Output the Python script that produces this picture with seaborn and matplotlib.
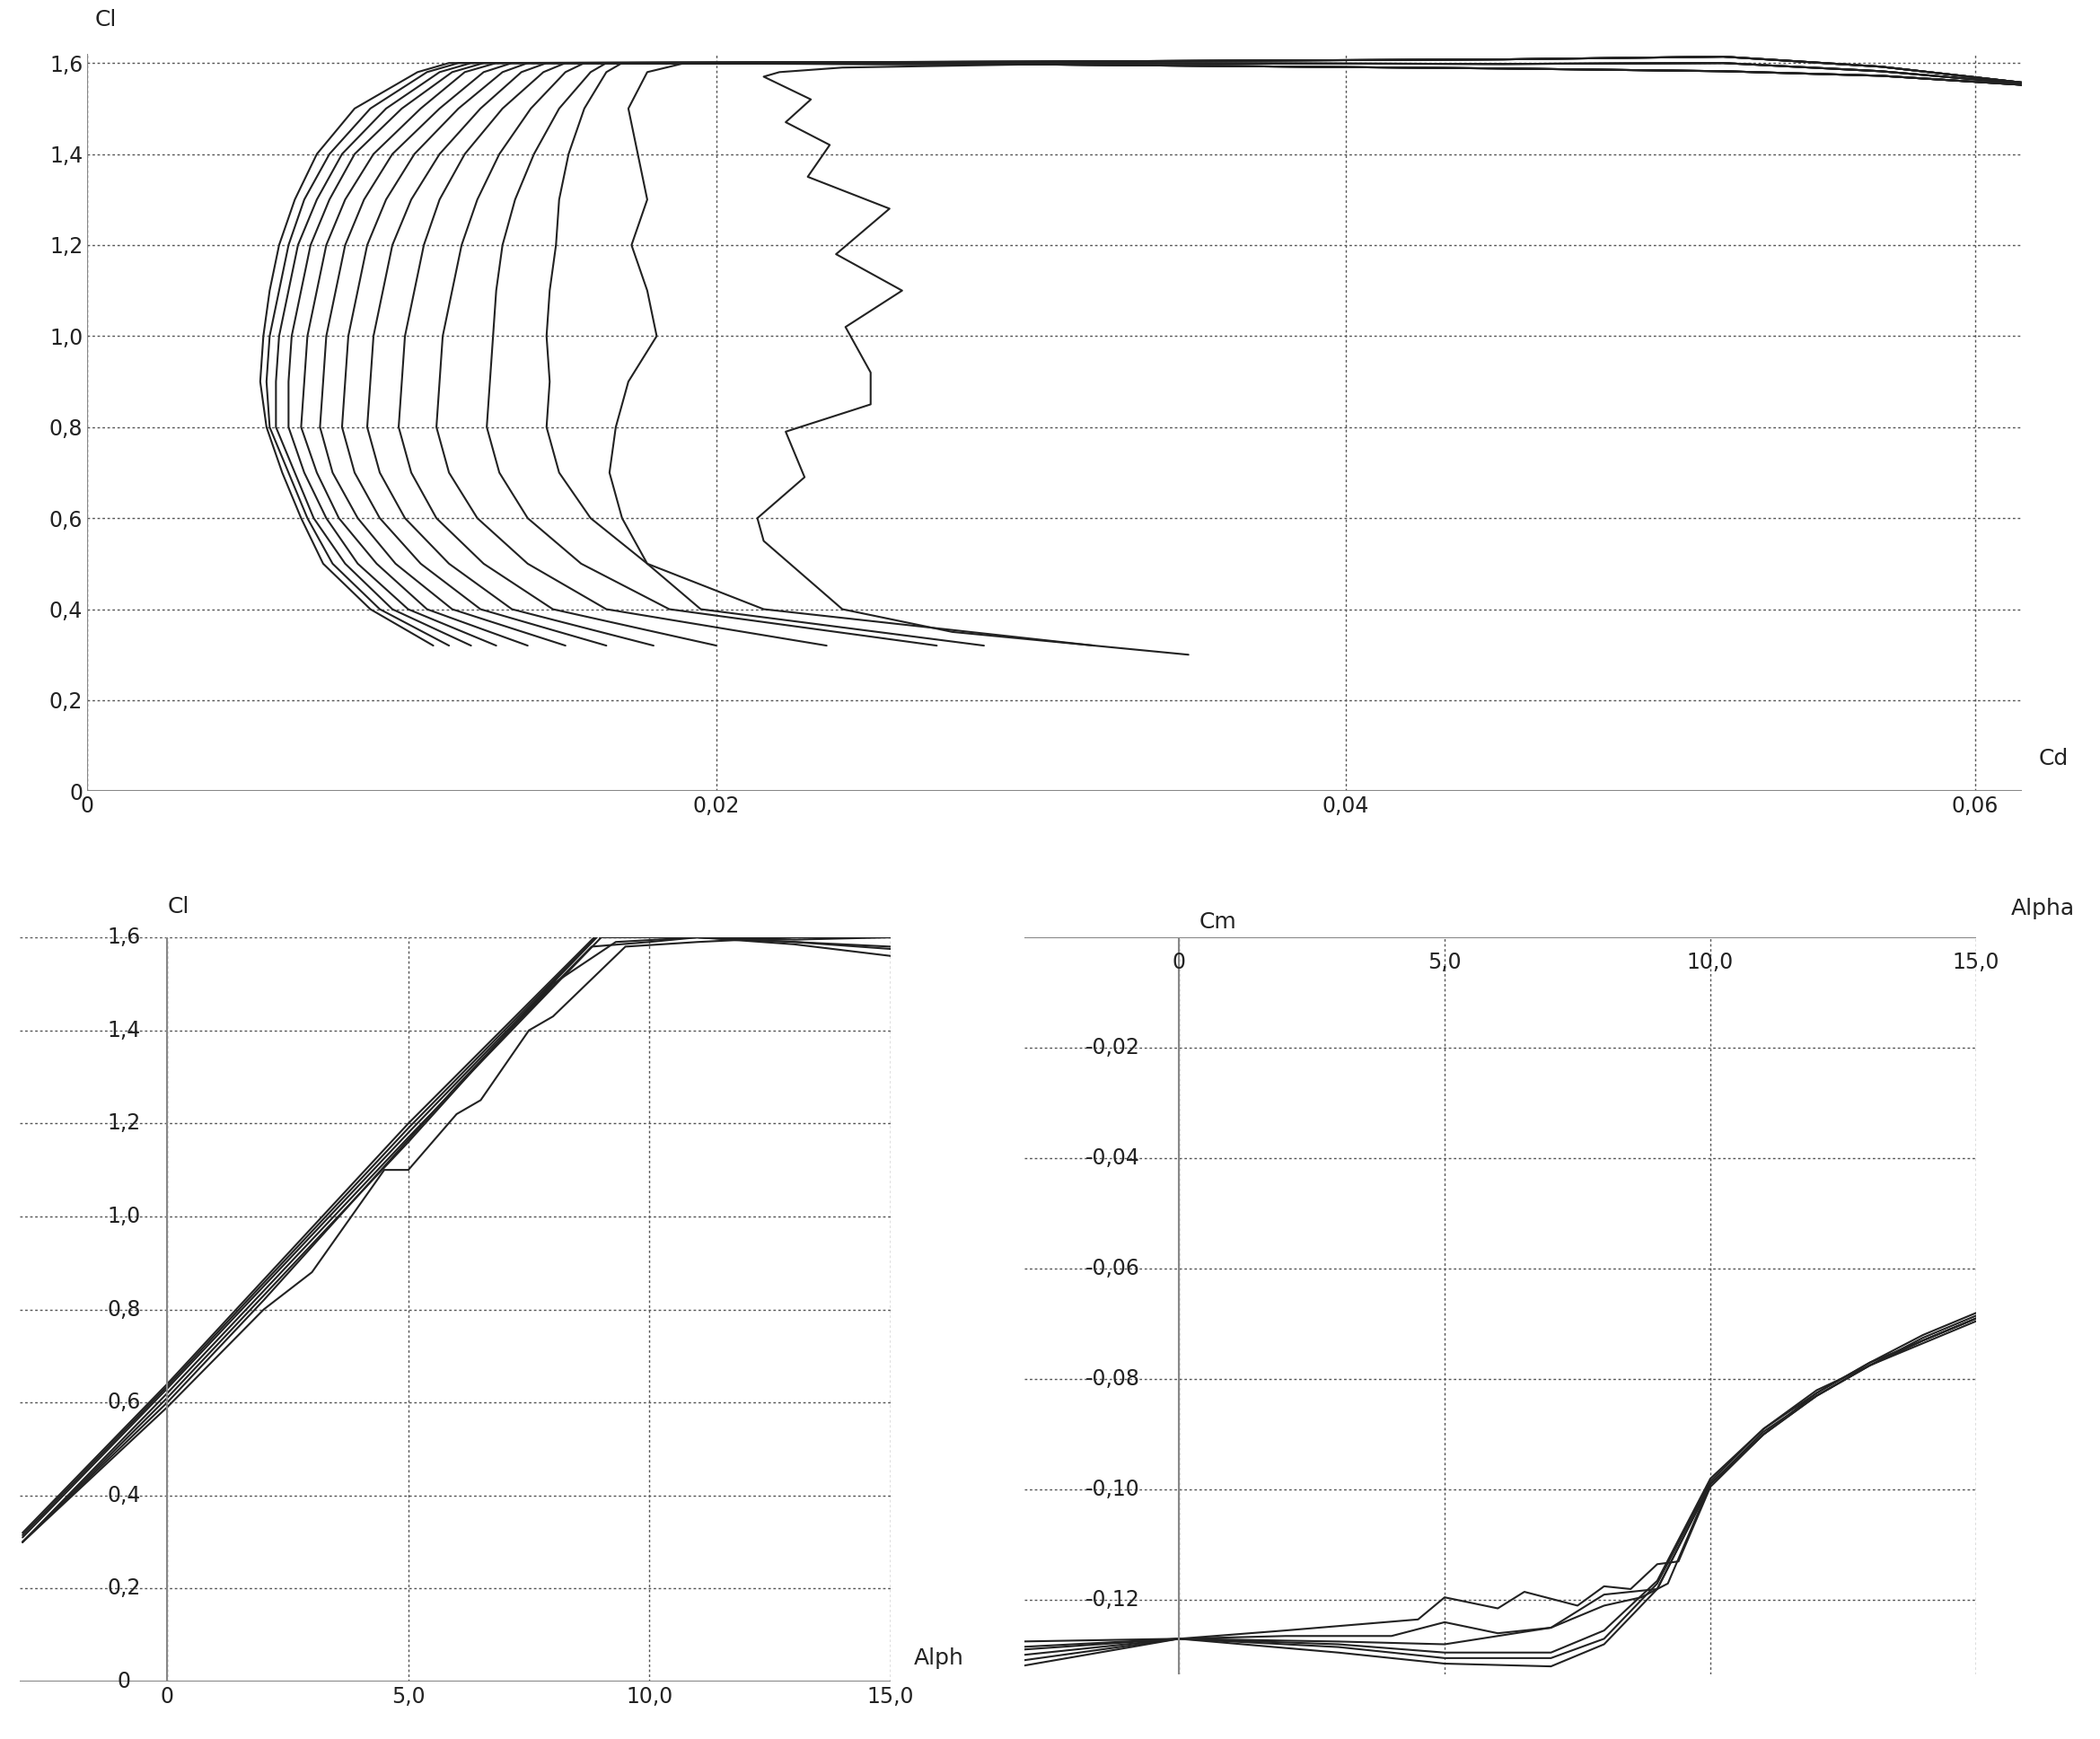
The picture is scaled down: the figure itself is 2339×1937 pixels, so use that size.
import numpy as np
import pandas as pd
import matplotlib
matplotlib.use("Agg")
import matplotlib.pyplot as plt
import seaborn as sns
from matplotlib.ticker import FuncFormatter

sns.set_theme(style="white")
plt.rcParams['font.family'] = ['DejaVu Sans']

# ---------------- polar Cl-Cd data ----------------
cl_levels = [0.32, 0.40, 0.50, 0.60, 0.70, 0.80, 0.90, 1.00, 1.10, 1.20, 1.30, 1.40, 1.50, 1.58, 1.60]
polar_cd = [
    [0.0110, 0.0090, 0.0075, 0.0068, 0.0062, 0.0057, 0.0055, 0.0056, 0.0058, 0.0061, 0.0066, 0.0073, 0.0085, 0.0105, 0.0115],
    [0.0115, 0.0093, 0.0078, 0.0070, 0.0064, 0.0058, 0.0057, 0.0058, 0.0061, 0.0064, 0.0069, 0.0077, 0.0090, 0.0108, 0.0118],
    [0.0122, 0.0097, 0.0082, 0.0072, 0.0066, 0.0060, 0.0060, 0.0061, 0.0064, 0.0067, 0.0073, 0.0081, 0.0095, 0.0112, 0.0122],
    [0.0130, 0.0102, 0.0086, 0.0076, 0.0069, 0.0064, 0.0064, 0.0065, 0.0068, 0.0071, 0.0077, 0.0085, 0.0100, 0.0116, 0.0126],
    [0.0140, 0.0108, 0.0092, 0.0080, 0.0073, 0.0068, 0.0069, 0.0070, 0.0073, 0.0076, 0.0082, 0.0091, 0.0106, 0.0120, 0.0130],
    [0.0152, 0.0116, 0.0098, 0.0086, 0.0078, 0.0074, 0.0075, 0.0076, 0.0079, 0.0082, 0.0088, 0.0097, 0.0112, 0.0126, 0.0135],
    [0.0165, 0.0125, 0.0106, 0.0093, 0.0085, 0.0081, 0.0082, 0.0083, 0.0086, 0.0089, 0.0095, 0.0104, 0.0118, 0.0132, 0.0140],
    [0.0180, 0.0135, 0.0115, 0.0101, 0.0093, 0.0089, 0.0090, 0.0091, 0.0094, 0.0097, 0.0103, 0.0112, 0.0125, 0.0138, 0.0146],
    [0.0200, 0.0148, 0.0126, 0.0111, 0.0103, 0.0099, 0.0100, 0.0101, 0.0104, 0.0107, 0.0112, 0.0120, 0.0132, 0.0145, 0.0152],
    [0.0235, 0.0165, 0.0140, 0.0124, 0.0115, 0.0111, 0.0112, 0.0113, 0.0116, 0.0119, 0.0124, 0.0131, 0.0141, 0.0152, 0.0158],
    [0.0270, 0.0185, 0.0157, 0.0140, 0.0131, 0.0127, 0.0128, 0.0129, 0.0130, 0.0132, 0.0136, 0.0142, 0.0150, 0.0160, 0.0165],
    [0.0320, 0.0215, 0.0178, 0.0160, 0.0150, 0.0146, 0.0147, 0.0146, 0.0147, 0.0149, 0.0150, 0.0153, 0.0158, 0.0165, 0.0170],
    [0.0285, 0.0195, 0.0178, 0.0170, 0.0166, 0.0168, 0.0172, 0.0181, 0.0178, 0.0173, 0.0178, 0.0175, 0.0172, 0.0178, 0.0190],
]
jag_cd = [0.0350, 0.0275, 0.0240, 0.0215, 0.0213, 0.0228, 0.0222, 0.0249, 0.0249, 0.0241, 0.0259, 0.0238,
          0.0255, 0.0229, 0.0236, 0.0222, 0.0230, 0.0215, 0.0220, 0.0240]
jag_cl = [0.30, 0.35, 0.40, 0.55, 0.60, 0.69, 0.79, 0.85, 0.92, 1.02, 1.10, 1.18,
          1.28, 1.35, 1.42, 1.47, 1.52, 1.57, 1.58, 1.59]
tail_cd = [0.030, 0.045, 0.052, 0.057, 0.0615]
tail_cl_hi = [1.603, 1.608, 1.614, 1.592, 1.557]
tail_cl_mid = [1.600, 1.598, 1.600, 1.582, 1.555]
tail_cl_lo = [1.597, 1.588, 1.582, 1.572, 1.552]

# ---------------- Cl-alpha data ----------------
cla_alpha = [
    [-3, 0, 5, 9, 11, 13, 15],
    [-3, 0, 5, 9, 11, 13, 15],
    [-3, 0, 5, 9, 11, 13, 15],
    [-3, 0, 5, 9, 11, 13, 15],
    [-3, 0, 3, 5, 7, 8.8, 10, 11, 13, 15],
    [-3, 0, 2, 4, 6, 8, 9.3, 11, 13, 15],
    [-3, 0, 2, 3, 4.5, 5, 6, 6.5, 7.5, 8, 9.5, 11, 13, 15],
]
cla_cl = [
    [0.32, 0.64, 1.20, 1.615, 1.60, 1.605, 1.62],
    [0.315, 0.635, 1.19, 1.612, 1.60, 1.60, 1.60],
    [0.31, 0.63, 1.18, 1.61, 1.60, 1.59, 1.58],
    [0.30, 0.62, 1.17, 1.60, 1.60, 1.585, 1.56],
    [0.30, 0.61, 0.94, 1.16, 1.39, 1.58, 1.59, 1.60, 1.59, 1.575],
    [0.30, 0.60, 0.82, 1.05, 1.28, 1.50, 1.59, 1.60, 1.595, 1.60],
    [0.30, 0.59, 0.80, 0.88, 1.10, 1.10, 1.22, 1.25, 1.40, 1.43, 1.58, 1.59, 1.60, 1.61],
]

# ---------------- Cm-alpha data ----------------
cm_alpha = [
    [-3, 0, 3, 5, 7, 8, 9, 10, 11, 12, 13, 14, 15],
    [-3, 0, 3, 5, 7, 8, 9, 10, 11, 12, 13, 14, 15],
    [-3, 0, 3, 5, 7, 8, 9, 10, 11, 12, 13, 14, 15],
    [-3, 0, 3, 5, 6, 7, 8, 8.7, 9.2, 10, 11, 12, 13, 14, 15],
    [-3, 0, 2, 4, 5, 6, 7, 8, 9, 10, 11, 12, 13, 14, 15],
    [-3, 0, 2, 4.5, 5, 6, 6.5, 7.5, 8, 8.5, 9, 9.4, 10, 11, 12, 13, 14, 15],
]
cm_vals = [
    [-0.1275, -0.1270, -0.1295, -0.1315, -0.1320, -0.1280, -0.1180, -0.0990, -0.0895, -0.0830, -0.0775, -0.0725, -0.0685],
    [-0.1290, -0.1270, -0.1285, -0.1305, -0.1305, -0.1270, -0.1170, -0.0985, -0.0890, -0.0825, -0.0770, -0.0720, -0.0680],
    [-0.1310, -0.1270, -0.1280, -0.1295, -0.1295, -0.1255, -0.1165, -0.0980, -0.0890, -0.0820, -0.0775, -0.0735, -0.0695],
    [-0.1320, -0.1270, -0.1275, -0.1280, -0.1265, -0.1250, -0.1210, -0.1195, -0.1170, -0.0990, -0.0900, -0.0825, -0.0770, -0.0730, -0.0690],
    [-0.1300, -0.1270, -0.1265, -0.1265, -0.1240, -0.1260, -0.1250, -0.1190, -0.1180, -0.0990, -0.0900, -0.0830, -0.0775, -0.0730, -0.0690],
    [-0.1285, -0.1270, -0.1255, -0.1235, -0.1195, -0.1215, -0.1185, -0.1210, -0.1175, -0.1180, -0.1135, -0.1130, -0.0995, -0.0900, -0.0830, -0.0775, -0.0730, -0.0690],
]

LINE = "#222222"
GRID = "#555555"
TXT = "#222222"


def fmt(v, nd):
    return "0" if abs(v) < 1e-12 else f"{v:.{nd}f}".replace(".", ",")


def long_df(xs, ys):
    rows = []
    for i, (x, y) in enumerate(zip(xs, ys)):
        for k, (a, b) in enumerate(zip(x, y)):
            rows.append({"curve": i, "order": k, "x": a, "y": b})
    return pd.DataFrame(rows)


def draw(ax, df, lw=1.5):
    sns.lineplot(data=df, x="x", y="y", units="curve", estimator=None, sort=False,
                 color=LINE, lw=lw, ax=ax, legend=False)
    ax.set_xlabel("")
    ax.set_ylabel("")
    for s in ax.spines.values():
        s.set_visible(False)
    ax.tick_params(length=0, labelsize=17, colors=TXT)
    ax.grid(True, ls=(0, (2, 2)), color=GRID, lw=1)
    ax.axvline(0, color="#888888", lw=1.5)


fig = plt.figure(figsize=(23.39, 19.37), dpi=100)

# ---- top polar ----
tails = [tail_cl_hi, tail_cl_mid, tail_cl_lo]
px, py = [], []
for i, cds in enumerate(polar_cd):
    px.append(cds + tail_cd)
    py.append(cl_levels + tails[i % 3])
px.append(jag_cd + tail_cd)
py.append(jag_cl + tail_cl_lo)
ax1 = fig.add_axes([0.0415, 0.545, 0.9215, 0.424])
draw(ax1, long_df(px, py))
ax1.set_xlim(0, 0.0615)
ax1.set_ylim(0, 1.62)
ax1.set_xticks([0, 0.02, 0.04, 0.06])
ax1.set_yticks(np.arange(0, 1.61, 0.2))
ax1.xaxis.set_major_formatter(FuncFormatter(lambda v, p: fmt(v, 2)))
ax1.yaxis.set_major_formatter(FuncFormatter(lambda v, p: fmt(v, 1)))
ax1.axhline(0, color="#888888", lw=1.5)
fig.text(0.045, 0.985, "Cl", fontsize=18, color=TXT)
fig.text(0.978, 0.560, "Cd", fontsize=18, color=TXT, ha="center")

# ---- bottom left Cl-alpha ----
ax2 = fig.add_axes([0.0096, 0.033, 0.4145, 0.428])
draw(ax2, long_df(cla_alpha, cla_cl))
ax2.set_xlim(-3.05, 15)
ax2.set_ylim(0, 1.6)
ax2.set_xticks([0, 5, 10, 15])
ax2.xaxis.set_major_formatter(FuncFormatter(lambda v, p: fmt(v, 1)))
ax2.set_yticks(np.arange(0, 1.61, 0.2))
ax2.set_yticklabels([])
ax2.axhline(0, color="#888888", lw=1.5)
for v in np.arange(0, 1.61, 0.2):
    ax2.text(-0.9, v, fmt(v, 1), ha="center", va="center", fontsize=17, color=TXT)
fig.text(0.080, 0.475, "Cl", fontsize=18, color=TXT)
fig.text(0.447, 0.043, "Alph", fontsize=18, color=TXT, ha="center")

# ---- bottom right Cm-alpha ----
ax3 = fig.add_axes([0.488, 0.037, 0.453, 0.424])
draw(ax3, long_df(cm_alpha, cm_vals))
ax3.set_xlim(-2.9, 15)
ax3.set_ylim(-0.1335, 0)
ax3.set_xticks([0, 5, 10, 15])
ax3.set_xticklabels([])
ax3.set_yticks([-0.02, -0.04, -0.06, -0.08, -0.10, -0.12])
ax3.set_yticklabels([])
ax3.axhline(0, color="#888888", lw=1.5)
for v in [0, 5, 10, 15]:
    ax3.text(v, -0.0045, fmt(v, 1), ha="center", va="center", fontsize=17, color=TXT)
for v in [-0.02, -0.04, -0.06, -0.08, -0.10, -0.12]:
    ax3.text(-1.25, v, fmt(v, 2), ha="center", va="center", fontsize=17, color=TXT)
fig.text(0.580, 0.466, "Cm", fontsize=18, color=TXT, ha="center")
fig.text(0.973, 0.474, "Alpha", fontsize=18, color=TXT, ha="center")

fig.savefig("out.png", dpi=100, facecolor="white")
